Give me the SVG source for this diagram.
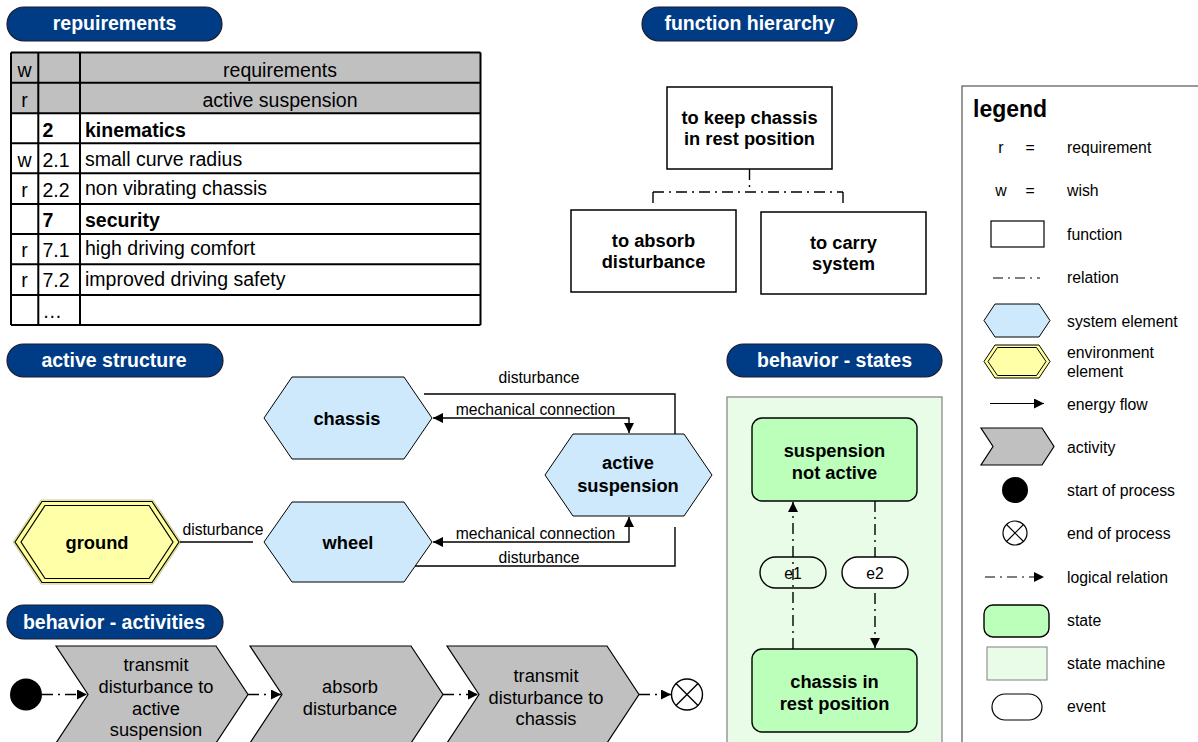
<svg xmlns="http://www.w3.org/2000/svg" width="1198" height="742" viewBox="0 0 1198 742">
<defs>
<marker id="ah" viewBox="0 0 10 10" refX="10" refY="5" markerWidth="10" markerHeight="10" markerUnits="userSpaceOnUse" orient="auto-start-reverse"><path d="M0,0 L10,5 L0,10 Z" fill="#000"/></marker>
<style>
text{font-family:"Liberation Sans",Arial,sans-serif;fill:#000}
.pill{fill:#003c85;stroke:#1c1c2c;stroke-width:1.2}
.pt{fill:#fff;font-weight:bold;font-size:19.5px;text-anchor:middle}
.tl{stroke:#000;stroke-width:2;fill:none}
.tt{font-size:19.5px}
.tb{font-size:19.5px;font-weight:bold}
.box{fill:#fff;stroke:#000;stroke-width:1.5}
.bt{font-size:18.3px;font-weight:bold;text-anchor:middle}
.hex{fill:#cde9fb;stroke:#000;stroke-width:1}
.ln{stroke:#000;stroke-width:1.4;fill:none}
.lbl{font-size:15.7px;text-anchor:middle}
.dd{stroke:#000;stroke-width:1.4;fill:none;stroke-dasharray:11,5,2,5}
.chev{fill:#c0c0c0;stroke:#000;stroke-width:1.2}
.ct{font-size:18.3px;text-anchor:middle}
.state{fill:#bbffbb;stroke:#000;stroke-width:1.4}
.ev{stroke:#000;stroke-width:1.4}
.lg{font-size:15.8px}
</style>
</defs>

<!-- section headers -->
<g id="hdr-requirements"><rect class="pill" x="7" y="7" width="215" height="34" rx="17"/><text class="pt" x="114.5" y="30">repuirements</text></g>
<g id="hdr-function"><rect class="pill" x="642" y="7" width="215" height="34" rx="17"/><text class="pt" x="749.5" y="30">function hierarchy</text></g>
<g id="hdr-active"><rect class="pill" x="7" y="344" width="216" height="33" rx="16.5"/><text class="pt" x="114" y="366.5">active structure</text></g>
<g id="hdr-states"><rect class="pill" x="727" y="344" width="215" height="33" rx="16.5"/><text class="pt" x="834.5" y="366.5">behavior - states</text></g>
<g id="hdr-activities"><rect class="pill" x="7" y="605" width="216" height="34" rx="17"/><text class="pt" x="114" y="628.5">behavior - activities</text></g>

<!-- requirements table -->
<g id="req-table">
<rect x="11" y="52" width="469" height="61" fill="#c0c0c0"/>
<rect x="11" y="113" width="469" height="212" fill="#fff"/>
<path class="tl" d="M11,52.5H480.5M11,82.7H480.5M11,113.3H480.5M11,143.3H480.5M11,173.3H480.5M11,204H480.5M11,234H480.5M11,264.3H480.5M11,295H480.5M11,325H480.5M11,52.5V325M38.3,52.5V325M80,52.5V325M480.5,52.5V325"/>
<text class="tt" x="280" y="77" text-anchor="middle">requirements</text>
<text class="tt" x="280" y="107" text-anchor="middle">active suspension</text>
<text class="tt" x="24.5" y="77" text-anchor="middle">w</text>
<text class="tt" x="24.5" y="107" text-anchor="middle">r</text>
<text class="tb" x="42.5" y="137">2</text><text class="tb" x="85" y="137">kinematics</text>
<text class="tt" x="24.5" y="167" text-anchor="middle">w</text><text class="tt" x="42.5" y="167">2.1</text><text class="tt" x="85" y="166">small curve radius</text>
<text class="tt" x="24.5" y="197" text-anchor="middle">r</text><text class="tt" x="42.5" y="197">2.2</text><text class="tt" x="85" y="195">non vibrating chassis</text>
<text class="tb" x="42.5" y="227">7</text><text class="tb" x="85" y="227">security</text>
<text class="tt" x="24.5" y="257" text-anchor="middle">r</text><text class="tt" x="42.5" y="257">7.1</text><text class="tt" x="85" y="255">high driving comfort</text>
<text class="tt" x="24.5" y="287" text-anchor="middle">r</text><text class="tt" x="42.5" y="287">7.2</text><text class="tt" x="85" y="286">improved driving safety</text>
<text class="tt" x="42.5" y="318">…</text>
</g>

<!-- function hierarchy -->
<g id="fn-keep"><rect class="box" x="667" y="87" width="165" height="82"/><text class="bt" x="749.5" y="123.5">to keep chassis</text><text class="bt" x="749.5" y="145">in rest position</text></g>
<g id="fn-absorb"><rect class="box" x="571" y="210" width="165" height="82"/><text class="bt" x="653.5" y="246.5">to absorb</text><text class="bt" x="653.5" y="268">disturbance</text></g>
<g id="fn-carry"><rect class="box" x="761" y="212" width="165" height="82"/><text class="bt" x="843.5" y="248.5">to carry</text><text class="bt" x="843.5" y="270">system</text></g>

<!-- active structure nodes -->
<g id="as-chassis"><polygon class="hex" points="264,418 292,377 404,377 432,418 404,459 292,459"/><text class="bt" x="347" y="424.5">chassis</text></g>
<g id="as-suspension"><polygon class="hex" points="545,475 573,434 684,434 712,475 684,516 573,516"/><text class="bt" x="628" y="469">active</text><text class="bt" x="628" y="492">suspension</text></g>
<g id="as-wheel"><polygon class="hex" points="264,542 292,502 404,502 432,542 404,582 292,582"/><text class="bt" x="348" y="548.5">wheel</text></g>
<g id="as-ground"><polygon points="13,542 41,500 153,500 181,542 153,584 41,584" fill="#ffff99" stroke="#c8c8a0" stroke-width="1"/><polygon points="15,542 42,501.5 152,501.5 179,542 152,582.5 42,582.5" fill="#ffff99" stroke="#000" stroke-width="1.2"/><polygon points="21,542 45,505.5 149,505.5 173,542 149,578.5 45,578.5" fill="#ffffa8" stroke="#000" stroke-width="1.2"/><text class="bt" x="97" y="548.5">ground</text></g>

<!-- behavior states -->
<g id="state-machine"><rect x="727" y="397" width="215" height="360" fill="#e8fce8" stroke="#808080" stroke-width="1.2"/></g>
<g id="st-notactive"><rect class="state" x="752" y="418" width="165" height="83" rx="10"/><text class="bt" x="834.5" y="456.5">suspension</text><text class="bt" x="834.5" y="478.5">not active</text></g>
<g id="st-rest"><rect class="state" x="752" y="649" width="165" height="83" rx="10"/><text class="bt" x="834.5" y="687.5">chassis in</text><text class="bt" x="834.5" y="709.5">rest position</text></g>
<g id="ev-e1"><rect class="ev" x="760" y="557" width="66" height="31" rx="15.5" fill="#e8fce8"/><text class="lbl" x="793" y="578.5">e1</text></g>

<!-- behavior activities -->
<g id="act-start"><circle cx="26" cy="694.5" r="16" fill="#000"/></g>
<g id="act-1"><polygon class="chev" points="56,646 216,646 248,694.5 216,743 56,743 88,694.5"/><text class="ct" x="156" y="671">transmit</text><text class="ct" x="156" y="693">disturbance to</text><text class="ct" x="156" y="714.5">active</text><text class="ct" x="156" y="736">suspension</text></g>
<g id="act-2"><polygon class="chev" points="250,646 411,646 443,694.5 411,743 250,743 282,694.5"/><text class="ct" x="350" y="693">absorb</text><text class="ct" x="350" y="714.5">disturbance</text></g>
<g id="act-3"><polygon class="chev" points="447,646 607,646 639,694.5 607,743 447,743 479,694.5"/><text class="ct" x="546" y="682">transmit</text><text class="ct" x="546" y="703.5">disturbance to</text><text class="ct" x="546" y="725">chassis</text></g>
<g id="act-end"><circle cx="687" cy="694.5" r="15.5" fill="#fff" stroke="#000" stroke-width="1.4"/><path d="M676,683.5 L698,705.5 M698,683.5 L676,705.5" stroke="#000" stroke-width="1.4"/></g>

<!-- connectors -->
<g id="connectors">
<path class="dd" d="M749.5,169 V192 M653,192 H843 M653,192 V205 M843,192 V207" stroke-dasharray="11,5,2,5"/>
<path class="ln" d="M424,394 H675 V434"/>
<path class="ln" d="M629,433 V418 H433" marker-start="url(#ah)" marker-end="url(#ah)"/>
<path class="ln" d="M433,542 H629 V517" marker-start="url(#ah)" marker-end="url(#ah)"/>
<path class="ln" d="M415,566 H675 V527"/>
<path class="ln" d="M180,542 H253"/>
<text class="lbl" x="539" y="382.5">disturbance</text>
<text class="lbl" x="535.5" y="414.5">mechanical connection</text>
<text class="lbl" x="535.5" y="538.5">mechanical connection</text>
<text class="lbl" x="539" y="562.5">disturbance</text>
<text class="lbl" x="223" y="534.5">disturbance</text>
<path class="dd" d="M793,649 V502" marker-end="url(#ah)"/>
<path class="dd" d="M875,501 V648" marker-end="url(#ah)"/>
<path class="dd" d="M42,694.5 H87" stroke-dasharray="6,4,2,4" marker-end="url(#ah)"/>
<path class="dd" d="M248,694.5 H281" stroke-dasharray="8,4,2,4" marker-end="url(#ah)"/>
<path class="dd" d="M443,694.5 H478" stroke-dasharray="8,4,2,4" marker-end="url(#ah)"/>
<path class="dd" d="M639,694.5 H671" stroke-dasharray="8,4,2,4" marker-end="url(#ah)"/>
</g>

<g id="ev-e2"><rect class="ev" x="842" y="557" width="66" height="31" rx="15.5" fill="#fff"/><text class="lbl" x="875" y="578.5">e2</text></g>

<!-- legend -->
<g id="legend">
<rect x="962" y="86" width="260" height="700" fill="#fff" stroke="#555" stroke-width="1.2"/>
<text x="973" y="117" font-size="23px" font-weight="bold">legend</text>
<text class="lg" x="1001" y="152.5" text-anchor="middle">r</text><text class="lg" x="1030" y="152.5" text-anchor="middle">=</text><text class="lg" x="1067" y="152.5">requirement</text>
<text class="lg" x="1001" y="195.5" text-anchor="middle">w</text><text class="lg" x="1030" y="195.5" text-anchor="middle">=</text><text class="lg" x="1067" y="195.5">wish</text>
<rect x="991" y="221" width="53" height="26" fill="#fff" stroke="#000" stroke-width="1.2"/><text class="lg" x="1067" y="239.5">function</text>
<path d="M993,278 H1040" stroke="#000" stroke-width="1.2" stroke-dasharray="10,5,2,5"/><text class="lg" x="1067" y="282.5">relation</text>
<polygon class="hex" points="984,320.5 995,304 1039,304 1050,320.5 1039,337 995,337"/><text class="lg" x="1067" y="326.5">system element</text>
<polygon points="984,361.5 995,345 1039,345 1050,361.5 1039,378 995,378" fill="#ffff99" stroke="#000" stroke-width="1"/><polygon points="988,361.5 997.5,347.5 1036.5,347.5 1046,361.5 1036.5,375.5 997.5,375.5" fill="#ffffa8" stroke="#000" stroke-width="1"/>
<text class="lg" x="1067" y="357.5">environment</text><text class="lg" x="1067" y="376.5">element</text>
<path d="M990,403.5 H1044" stroke="#000" stroke-width="1.2" marker-end="url(#ah)"/><text class="lg" x="1067" y="409.5">energy flow</text>
<polygon class="chev" points="981,428 1042,428 1054,446.5 1042,465 981,465 993,446.5"/><text class="lg" x="1067" y="452.5">activity</text>
<circle cx="1015" cy="490" r="13" fill="#000"/><text class="lg" x="1067" y="495.5">start of process</text>
<circle cx="1015" cy="533" r="12" fill="#fff" stroke="#000" stroke-width="1.2"/><path d="M1006.5,524.5 L1023.5,541.5 M1023.5,524.5 L1006.5,541.5" stroke="#000" stroke-width="1.2"/><text class="lg" x="1067" y="538.5">end of process</text>
<path d="M985,577 H1044" stroke="#000" stroke-width="1.2" stroke-dasharray="10,5,2,5" marker-end="url(#ah)"/><text class="lg" x="1067" y="582.5">logical relation</text>
<rect class="state" x="984" y="605" width="65" height="32" rx="9" stroke-width="1.2"/><text class="lg" x="1067" y="625.5">state</text>
<rect x="987" y="647" width="60" height="33" fill="#e8fce8" stroke="#808080" stroke-width="1"/><text class="lg" x="1067" y="668.5">state machine</text>
<rect x="992" y="694" width="50" height="26" rx="13" fill="#fff" stroke="#000" stroke-width="1.2"/><text class="lg" x="1067" y="711.5">event</text>
</g>
</svg>
